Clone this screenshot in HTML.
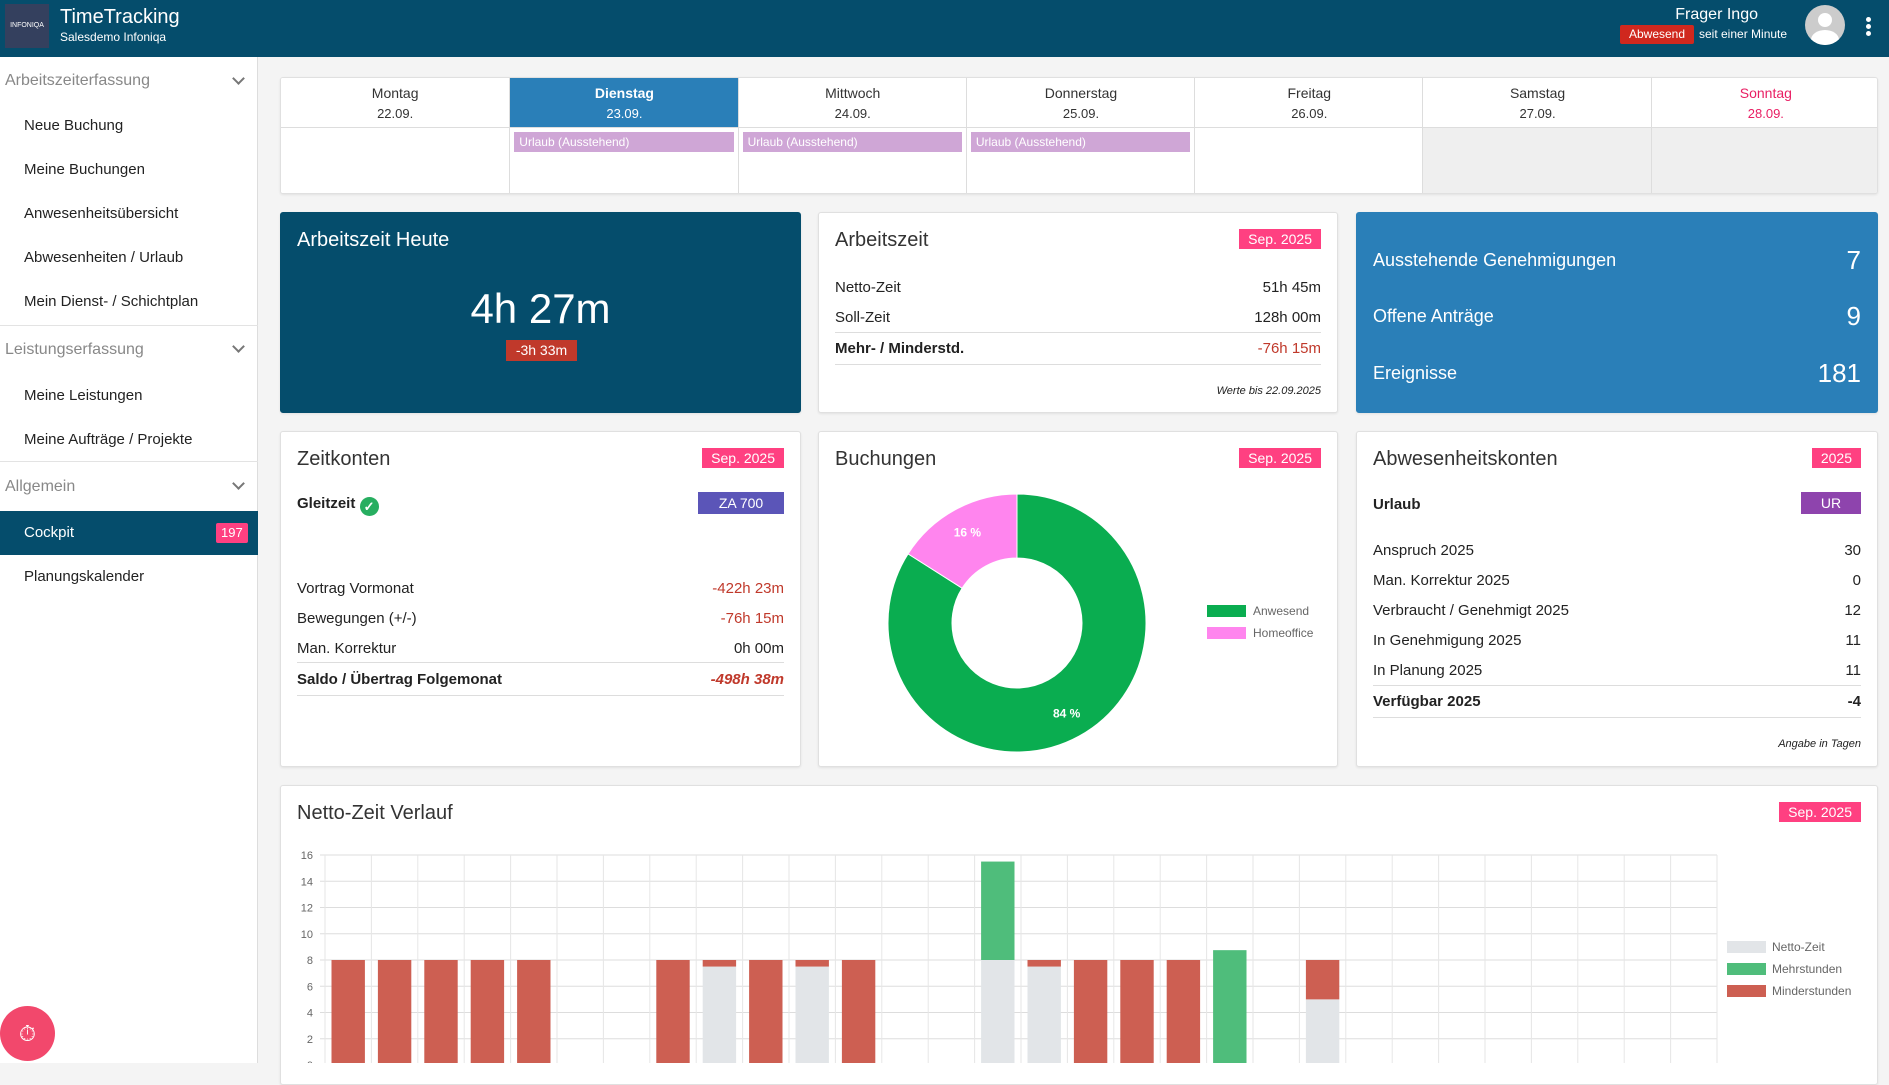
<!DOCTYPE html>
<html><head><meta charset="utf-8"><style>
*{box-sizing:border-box;margin:0;padding:0}
body{width:1889px;height:1063px;overflow:hidden;background:#f4f4f4;font-family:"Liberation Sans",sans-serif;color:#222;position:relative}
.a{position:absolute}
.hdr{left:0;top:0;width:1889px;height:57px;background:#054d6c;color:#fff}
.side{left:0;top:57px;width:258px;height:1006px;background:#fff;border-right:1px solid #ddd}
.si{position:absolute;left:24px;font-size:15px;color:#222}
.sg{position:absolute;left:5px;font-size:16px;color:#888}
.chev{position:absolute;left:234px;width:9px;height:9px;border-right:2px solid #777;border-bottom:2px solid #777;transform:rotate(45deg)}
.sep{position:absolute;left:0;width:258px;height:1px;background:#e3e3e3}
.card{position:absolute;background:#fff;border:1px solid #e0e0e0;border-radius:3px;box-shadow:0 1px 2px rgba(0,0,0,.08)}
.ttl{position:absolute;left:16px;top:16px;font-size:20px;color:#333}
.badge{position:absolute;right:16px;top:16px;background:#ff4081;color:#fff;font-size:14px;padding:2px 9px}
.row{position:absolute;left:16px;right:16px;font-size:15px;display:flex;justify-content:space-between}
.red{color:#c0392b}
.line{position:absolute;left:16px;right:16px;height:1px;background:#ddd}
.cal-h{position:absolute;top:0;height:50px;text-align:center;font-size:14px;color:#333;line-height:20px;padding-top:5px}
</style></head><body>
<div class="a hdr">
  <div class="a" style="left:5px;top:4px;width:44px;height:44px;background:#34405e;color:#fff;font-size:7px;line-height:44px;text-align:center">INFONIQA</div>
  <div class="a" style="left:60px;top:6px;font-size:20px">TimeTracking</div>
  <div class="a" style="left:60px;top:30px;font-size:12px">Salesdemo Infoniqa</div>
  <div class="a" style="right:131px;top:6px;font-size:16px">Frager Ingo</div>
  <div class="a" style="left:1620px;top:25px;width:74px;height:19px;background:#d0281e;color:#fff;font-size:12px;text-align:center;line-height:19px;border-radius:2px">Abwesend</div>
  <div class="a" style="left:1699px;top:27px;font-size:12px">seit einer Minute</div>
  <div class="a" style="left:1805px;top:5px;width:40px;height:40px;border-radius:50%;background:#ccc;overflow:hidden"><div class="a" style="left:13px;top:8px;width:14px;height:14px;border-radius:50%;background:#fff"></div><div class="a" style="left:6px;top:25px;width:28px;height:20px;border-radius:50%;background:#fff"></div></div>
  <div class="a" style="left:1866px;top:17px;width:5px;font-size:0"><div style="width:5px;height:5px;border-radius:50%;background:#fff;margin-bottom:2px"></div><div style="width:5px;height:5px;border-radius:50%;background:#fff;margin-bottom:2px"></div><div style="width:5px;height:5px;border-radius:50%;background:#fff"></div></div>
</div>
<div class="a side">
  <div class="sg" style="top:15px">Arbeitszeiterfassung</div><div class="chev" style="top:17px"></div>
  <div class="si" style="top:60px">Neue Buchung</div>
  <div class="si" style="top:104px">Meine Buchungen</div>
  <div class="si" style="top:148px">Anwesenheitsübersicht</div>
  <div class="si" style="top:192px">Abwesenheiten / Urlaub</div>
  <div class="si" style="top:236px">Mein Dienst- / Schichtplan</div>
  <div class="sep" style="top:268px"></div>
  <div class="sg" style="top:284px">Leistungserfassung</div><div class="chev" style="top:285px"></div>
  <div class="si" style="top:330px">Meine Leistungen</div>
  <div class="si" style="top:374px">Meine Aufträge / Projekte</div>
  <div class="sep" style="top:404px"></div>
  <div class="sg" style="top:421px">Allgemein</div><div class="chev" style="top:422px"></div>
  <div class="a" style="left:0;top:454px;width:258px;height:44px;background:#054d6c;color:#fff;font-size:15px;line-height:44px;padding-left:24px">Cockpit<span style="position:absolute;left:216px;top:12px;background:#ff4081;font-size:13px;line-height:20px;padding:0 5px;border-radius:2px">197</span></div>
  <div class="si" style="top:511px">Planungskalender</div>
</div>
<div class="a" style="left:0;top:1006px;width:55px;height:55px;border-radius:50%;background:#f2486c;color:#fff;font-size:22px;text-align:center;line-height:55px">⏱</div>

<!-- calendar -->
<div class="card" style="left:280px;top:77px;width:1598px;height:117px;overflow:hidden">
<div id="cal"></div>
</div>

<!-- row 1 -->
<div class="card" style="left:280px;top:212px;width:521px;height:201px;background:#054d6c;border-color:#054d6c;color:#fff">
  <div class="ttl" style="color:#fff">Arbeitszeit Heute</div>
  <div class="a" style="left:0;width:100%;top:72px;text-align:center;font-size:42px">4h 27m</div>
  <div class="a" style="left:225px;top:127px;width:71px;height:21px;background:#c0392b;font-size:14px;text-align:center;line-height:21px">-3h 33m</div>
</div>
<div class="card" style="left:818px;top:212px;width:520px;height:201px">
  <div class="ttl">Arbeitszeit</div><div class="badge">Sep. 2025</div>
  <div class="row" style="top:66px"><span>Netto-Zeit</span><span>51h 45m</span></div>
  <div class="row" style="top:96px"><span>Soll-Zeit</span><span>128h 00m</span></div>
  <div class="line" style="top:119px"></div>
  <div class="row" style="top:127px;font-weight:bold"><span>Mehr- / Minderstd.</span><span class="red" style="font-weight:normal">-76h 15m</span></div>
  <div class="line" style="top:151px"></div>
  <div class="a" style="right:16px;top:172px;font-size:11px;font-style:italic">Werte bis 22.09.2025</div>
</div>
<div class="card" style="left:1356px;top:212px;width:522px;height:201px;background:#2a7fb8;border-color:#2a7fb8;color:#fff">
  <div class="row" style="top:32px;font-size:18px;align-items:center"><span>Ausstehende Genehmigungen</span><span style="font-size:26px">7</span></div>
  <div class="row" style="top:88px;font-size:18px;align-items:center"><span>Offene Anträge</span><span style="font-size:26px">9</span></div>
  <div class="row" style="top:145px;font-size:18px;align-items:center"><span>Ereignisse</span><span style="font-size:26px">181</span></div>
</div>

<!-- row 2 -->
<div class="card" style="left:280px;top:431px;width:521px;height:336px">
  <div class="ttl">Zeitkonten</div><div class="badge">Sep. 2025</div>
  <div class="a" style="left:16px;top:63px;font-size:15px;font-weight:bold">Gleitzeit <span style="display:inline-block;width:19px;height:19px;border-radius:50%;background:#27ae60;color:#fff;font-size:13px;text-align:center;line-height:19px;vertical-align:-3px">✓</span></div>
  <div class="a" style="right:16px;top:60px;width:86px;height:22px;background:#5b55b8;color:#fff;font-size:14px;text-align:center;line-height:22px">ZA 700</div>
  <div class="row" style="top:148px"><span>Vortrag Vormonat</span><span class="red">-422h 23m</span></div>
  <div class="row" style="top:178px"><span>Bewegungen (+/-)</span><span class="red">-76h 15m</span></div>
  <div class="row" style="top:208px"><span>Man. Korrektur</span><span>0h 00m</span></div>
  <div class="line" style="top:230px"></div>
  <div class="row" style="top:239px;font-weight:bold"><span>Saldo / Übertrag Folgemonat</span><span class="red" style="font-style:italic">-498h 38m</span></div>
  <div class="line" style="top:263px"></div>
</div>
<div class="card" style="left:818px;top:431px;width:520px;height:336px">
  <div class="ttl">Buchungen</div><div class="badge">Sep. 2025</div>
  <svg id="donut" class="a" style="left:0;top:0" width="520" height="336"></svg>
</div>
<div class="card" style="left:1356px;top:431px;width:522px;height:336px">
  <div class="ttl">Abwesenheitskonten</div><div class="badge">2025</div>
  <div class="a" style="left:16px;top:64px;font-size:15px;font-weight:bold">Urlaub</div>
  <div class="a" style="right:16px;top:60px;width:60px;height:22px;background:#8e44ad;color:#fff;font-size:14px;text-align:center;line-height:22px">UR</div>
  <div class="row" style="top:110px"><span>Anspruch 2025</span><span>30</span></div>
  <div class="row" style="top:140px"><span>Man. Korrektur 2025</span><span>0</span></div>
  <div class="row" style="top:170px"><span>Verbraucht / Genehmigt 2025</span><span>12</span></div>
  <div class="row" style="top:200px"><span>In Genehmigung 2025</span><span>11</span></div>
  <div class="row" style="top:230px"><span>In Planung 2025</span><span>11</span></div>
  <div class="line" style="top:253px"></div>
  <div class="row" style="top:261px;font-weight:bold"><span>Verfügbar 2025</span><span>-4</span></div>
  <div class="line" style="top:285px"></div>
  <div class="a" style="right:16px;top:306px;font-size:11px;font-style:italic">Angabe in Tagen</div>
</div>

<!-- chart -->
<div class="card" style="left:280px;top:785px;width:1598px;height:300px">
  <div class="ttl">Netto-Zeit Verlauf</div><div class="badge">Sep. 2025</div>
</div>
<svg id="chart" class="a" style="left:0;top:0" width="1889" height="1063"></svg>

<script>
// calendar
const days=['Montag','Dienstag','Mittwoch','Donnerstag','Freitag','Samstag','Sonntag'];
const dates=['22.09.','23.09.','24.09.','25.09.','26.09.','27.09.','28.09.'];
const urlaub=[0,1,1,1,0,0,0];
const cal=document.getElementById('cal');
const cw=1598/7;
days.forEach((d,i)=>{
  const col=document.createElement('div');
  
  
  col.style.cssText=`position:absolute;left:${i*cw}px;top:0;width:${cw}px;height:117px;border-left:${i?1:0}px solid #ddd;background:${i>=5?'#efefef':'#fff'}`;
  const h=document.createElement('div');
  h.className='cal-h';
  h.style.cssText+=`left:0;width:${cw}px;border-bottom:1px solid #ddd;background:${i==1?'#2a7fb8':'#fff'};color:${i==1?'#fff':(i==6?'#e91e63':'#333')};font-weight:${i==1?'bold':'normal'}`;
  h.innerHTML=d+'<br><span style="font-size:13px;font-weight:normal">'+dates[i]+'</span>';
  col.appendChild(h);
  if(urlaub[i]){const u=document.createElement('div');
    
    
    u.style.cssText='position:absolute;left:4px;right:4px;top:54px;height:20px;background:#cfa6d6;color:#fff;font-size:12px;line-height:20px;padding-left:5px';
    u.textContent='Urlaub (Ausstehend)';col.appendChild(u);}
  cal.appendChild(col);
});
</script>
<script>
// donut
const sliceLabels=['Anwesend','Homeoffice'];
const sliceValues=[84,16];
const sliceColors=['#0aad50','#ff85ee'];
(function(){
const s=document.getElementById('donut'),NS='http://www.w3.org/2000/svg';
const cx=198,cy=191,R=129,r=65,tot=sliceValues.reduce((a,b)=>a+b,0);
let a0=-Math.PI/2;
sliceValues.forEach((v,i)=>{
  const a1=a0+v/tot*2*Math.PI,lg=(a1-a0)>Math.PI?1:0;
  const p=(rr,a)=>[cx+rr*Math.cos(a),cy+rr*Math.sin(a)];
  const [x0,y0]=p(R,a0),[x1,y1]=p(R,a1),[x2,y2]=p(r,a1),[x3,y3]=p(r,a0);
  const path=document.createElementNS(NS,'path');
  path.setAttribute('d',`M${x0},${y0}A${R},${R} 0 ${lg} 1 ${x1},${y1}L${x2},${y2}A${r},${r} 0 ${lg} 0 ${x3},${y3}Z`);
  path.setAttribute('fill',sliceColors[i]);path.setAttribute('stroke','#fff');
  
  
  s.appendChild(path);
  const am=(a0+a1)/2,[tx,ty]=p((R+r)/2+6,am);
  const t=document.createElementNS(NS,'text');
  t.setAttribute('x',tx);t.setAttribute('y',ty+4);t.setAttribute('text-anchor','middle');
  t.setAttribute('fill','#fff');t.setAttribute('font-size','12');t.setAttribute('font-weight','bold');
  
  
  t.textContent=Math.round(v/tot*100)+' %';s.appendChild(t);
  const lr=document.createElementNS(NS,'rect');
  lr.setAttribute('x',388);lr.setAttribute('y',173+i*22);lr.setAttribute('width',39);lr.setAttribute('height',12);lr.setAttribute('fill',sliceColors[i]);
  
  
  s.appendChild(lr);
  const lt=document.createElementNS(NS,'text');
  lt.setAttribute('x',434);lt.setAttribute('y',183+i*22);lt.setAttribute('font-size','12');lt.setAttribute('fill','#666');
  
  
  lt.textContent=sliceLabels[i];s.appendChild(lt);
  a0=a1;
});
})();
</script>
<script>
// bar chart
const dayIdx=[1,2,3,4,5,6,7,8,9,10,11,12,13,14,15,16,17,18,19,20,21,22,23,24,25,26,27,28,29,30];
const netto=[0,0,0,0,0,0,0,0,7.5,0,7.5,0,0,0,8,7.5,0,0,0,0,0,5,0,0,0,0,0,0,0,0];
const mehr=[0,0,0,0,0,0,0,0,0,0,0,0,0,0,7.5,0,0,0,0,8.75,0,0,0,0,0,0,0,0,0,0];
const minder=[8,8,8,8,8,0,0,8,0.5,8,0.5,8,0,0,0,0.5,8,8,8,0,0,3,0,0,0,0,0,0,0,0];
const yTicks=[0,2,4,6,8,10,12,14,16];
const seriesNames=['Netto-Zeit','Mehrstunden','Minderstunden'];
const seriesColors=['#e2e5e8','#4fbd7b','#cd5f52'];
(function(){
const s=document.getElementById('chart'),NS='http://www.w3.org/2000/svg';
const L=325,Rr=1717,Y0=1065,YT=855,ymax=16;
const y=v=>Y0-(v/ymax)*(Y0-YT);
const n=dayIdx.length,cw=(Rr-L)/n;
const x=i=>L+i*cw;
const el=(t,a)=>{const e=document.createElementNS(NS,t);for(const k in a)e.setAttribute(k,a[k]);s.appendChild(e);return e;};
yTicks.forEach(v=>{
  const g=el('line',{x1:L-5,x2:Rr,y1:y(v),y2:y(v),stroke:'#ddd'});
  
  
  const t=el('text',{x:L-12,y:y(v)+4,'text-anchor':'end','font-size':11,fill:'#666'});
  
  
  t.textContent=v;
});
for(let i=0;i<=n;i++){const g=el('line',{x1:x(i),x2:x(i),y1:YT,y2:Y0,stroke:'#e6e6e6'});
  
  }
const bw=cw*0.72;
dayIdx.forEach((d,i)=>{
  let base=0;
  [netto[i],mehr[i],minder[i]].forEach((v,k)=>{
    if(v>0){const r=el('rect',{x:x(i)+(cw-bw)/2,y:y(base+v),width:bw,height:y(base)-y(base+v),fill:seriesColors[k]});
      
      }
    base+=v;
  });
});
seriesNames.forEach((nm,k)=>{
  const r=el('rect',{x:1727,y:941+k*22,width:39,height:12,fill:seriesColors[k]});
  
  
  const t=el('text',{x:1772,y:951+k*22,'font-size':12,fill:'#666'});
  
  
  t.textContent=nm;
});
})();
</script>
</body></html>
